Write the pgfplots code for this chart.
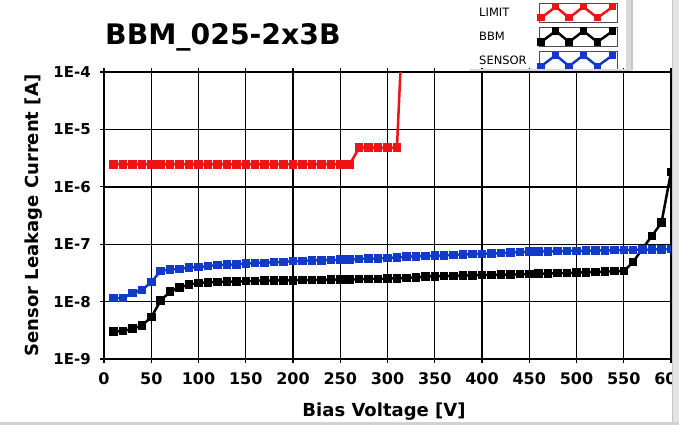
\documentclass[border=0pt]{standalone}
\usepackage{pgfplots}
\pgfplotsset{compat=1.18}
\usepackage{fontspec}
\setmainfont{DejaVu Sans}
\definecolor{limred}{RGB}{236,20,20}
\definecolor{sensblue}{RGB}{18,58,200}
\begin{document}
\begin{tikzpicture}
\begin{axis}[
  at={(104pt,66pt)}, anchor=south west,
  scale only axis, width=567pt, height=287pt,
  xmin=0, xmax=600, ymin=1e-9, ymax=1e-4, ymode=log,
  xtick={0,50,100,150,200,250,300,350,400,450,500,550,600},
  /pgf/number format/assume math mode=true,
  ytick={1e-9,1e-8,1e-7,1e-6,1e-5,1e-4},
  yticklabels={1E-9,1E-8,1E-7,1E-6,1E-5,1E-4},
  yminorticks=false, xminorticks=false,
  xmajorgrids=true, ymajorgrids=true,
  major grid style={black, line width=1.4pt},
  axis line style={black, line width=1.4pt},
  tick align=outside, major tick length=4pt, tick style={black, line width=1.2pt},
  xticklabel style={font=\fontsize{16}{16}\selectfont\bfseries, yshift=-6pt},
  yticklabel style={font=\fontsize{15}{15}\selectfont\bfseries, xshift=-5.7pt},
  xlabel={Bias Voltage [V]}, ylabel={Sensor Leakage Current [A]},
  every axis x label/.style={at={(axis description cs:0.4938,-0.201)}, anchor=base, font=\fontsize{18}{18}\selectfont\bfseries},
  every axis y label/.style={at={(axis description cs:-0.1164,0.5)}, rotate=90, anchor=base, font=\fontsize{18}{18}\selectfont\bfseries},
  clip marker paths=true,
  legend plot pos=right,
  legend cell align=left,
  legend style={at={(axis description cs:0.6614,1.2415)}, anchor=north west,
    draw=none, fill=none, inner sep=0pt, row sep=4.4pt, column sep=12pt,
    font=\fontsize{11.5}{11.5}\selectfont, nodes={inner sep=0pt}},
  legend image code/.code={
    \draw[draw=gray!60!black, fill=white, line width=0.8pt] (0pt,-9.5pt) rectangle (78pt,9.5pt);
    \draw[#1, mark size=2.4pt] plot coordinates {(2pt,-5pt)(16.7pt,6pt)(30pt,-5pt)(44.3pt,6pt)(58.3pt,-5pt)(73.7pt,6pt)};
  },
  every axis plot/.append style={line width=2.5pt, mark=square*, mark size=3pt, mark options={solid}},
  gridline/.style={black, line width=1.4pt, no markers, forget plot},
]
% vertical grid lines at each x tick
\addplot[gridline] coordinates {(50,1e-9)(50,1e-4)};
\addplot[gridline] coordinates {(100,1e-9)(100,1e-4)};
\addplot[gridline] coordinates {(150,1e-9)(150,1e-4)};
\addplot[gridline] coordinates {(200,1e-9)(200,1e-4)};
\addplot[gridline] coordinates {(250,1e-9)(250,1e-4)};
\addplot[gridline] coordinates {(300,1e-9)(300,1e-4)};
\addplot[gridline] coordinates {(350,1e-9)(350,1e-4)};
\addplot[gridline] coordinates {(400,1e-9)(400,1e-4)};
\addplot[gridline] coordinates {(450,1e-9)(450,1e-4)};
\addplot[gridline] coordinates {(500,1e-9)(500,1e-4)};
\addplot[gridline] coordinates {(550,1e-9)(550,1e-4)};
\addplot[color=limred] coordinates {
(10,2.45e-6)(20,2.45e-6)(30,2.45e-6)(40,2.45e-6)(50,2.45e-6)(60,2.45e-6)(70,2.45e-6)(80,2.45e-6)(90,2.45e-6)(100,2.45e-6)
(110,2.45e-6)(120,2.45e-6)(130,2.45e-6)(140,2.45e-6)(150,2.45e-6)(160,2.45e-6)(170,2.45e-6)(180,2.45e-6)(190,2.45e-6)(200,2.45e-6)
(210,2.45e-6)(220,2.45e-6)(230,2.45e-6)(240,2.45e-6)(250,2.45e-6)(260,2.45e-6)
(270,4.8e-6)(280,4.8e-6)(290,4.8e-6)(300,4.8e-6)(310,4.8e-6)(320,2e-2)
};
\addlegendentry{LIMIT}
\addplot[color=black] coordinates {
(10,3.03e-9)(20,3.05e-9)(30,3.38e-9)(40,3.82e-9)(50,5.36e-9)(60,1.04e-8)(70,1.5e-8)(80,1.77e-8)(90,1.97e-8)(100,2.11e-8)
(110,2.17e-8)(120,2.19e-8)(130,2.22e-8)(140,2.25e-8)(150,2.27e-8)(160,2.3e-8)(170,2.32e-8)(180,2.33e-8)(190,2.34e-8)(200,2.35e-8)
(210,2.37e-8)(220,2.38e-8)(230,2.4e-8)(240,2.41e-8)(250,2.43e-8)(260,2.44e-8)(270,2.46e-8)(280,2.47e-8)(290,2.49e-8)(300,2.51e-8)
(310,2.55e-8)(320,2.6e-8)(330,2.65e-8)(340,2.72e-8)(350,2.76e-8)(360,2.8e-8)(370,2.82e-8)(380,2.85e-8)(390,2.87e-8)(400,2.9e-8)
(410,2.92e-8)(420,2.95e-8)(430,2.98e-8)(440,3.0e-8)(450,3.04e-8)(460,3.07e-8)(470,3.1e-8)(480,3.13e-8)(490,3.16e-8)(500,3.2e-8)
(510,3.23e-8)(520,3.27e-8)(530,3.32e-8)(540,3.38e-8)(550,3.4e-8)(560,4.9e-8)(570,8.5e-8)(580,1.4e-7)(590,2.4e-7)(600,1.8e-6)
};
\addlegendentry{BBM}
\addplot[color=sensblue] coordinates {
(10,1.15e-8)(20,1.15e-8)(30,1.42e-8)(40,1.58e-8)(50,2.19e-8)(60,3.43e-8)(70,3.62e-8)(80,3.72e-8)(90,3.9e-8)(100,4.0e-8)
(110,4.15e-8)(120,4.3e-8)(130,4.4e-8)(140,4.45e-8)(150,4.6e-8)(160,4.7e-8)(170,4.75e-8)(180,4.85e-8)(190,4.94e-8)(200,5.05e-8)
(210,5.1e-8)(220,5.2e-8)(230,5.22e-8)(240,5.29e-8)(250,5.36e-8)(260,5.43e-8)(270,5.5e-8)(280,5.58e-8)(290,5.66e-8)(300,5.8e-8)
(310,5.87e-8)(320,6.06e-8)(330,6.15e-8)(340,6.22e-8)(350,6.3e-8)(360,6.4e-8)(370,6.5e-8)(380,6.6e-8)(390,6.7e-8)(400,6.8e-8)
(410,6.9e-8)(420,7.0e-8)(430,7.15e-8)(440,7.3e-8)(450,7.4e-8)(460,7.45e-8)(470,7.5e-8)(480,7.55e-8)(490,7.6e-8)(500,7.65e-8)
(510,7.7e-8)(520,7.75e-8)(530,7.8e-8)(540,7.85e-8)(550,7.94e-8)(560,8.0e-8)(570,8.05e-8)(580,8.1e-8)(590,8.15e-8)(600,8.2e-8)
};
\addlegendentry{SENSOR}
\end{axis}
\node[anchor=base west, font=\fontsize{28.3}{28.3}\selectfont\bfseries, inner sep=0pt] at (105pt,380pt) {BBM\_025-2x3B};
% legend panel shading
\fill[gray!30] (626pt,354pt) rectangle (633pt,425pt);
\fill[gray!45] (631pt,354pt) rectangle (633pt,425pt);
\fill[gray!30] (470pt,353.5pt) rectangle (633pt,355.5pt);
% right and bottom frame
\fill[gray!22] (671.8pt,0pt) rectangle (679pt,425pt);
\fill[gray!45] (671.8pt,0pt) rectangle (673pt,425pt);
\fill[gray!35] (0pt,0pt) rectangle (679pt,2.5pt);
\pgfresetboundingbox
\useasboundingbox (0pt,0pt) rectangle (679pt,425pt);
\end{tikzpicture}
\end{document}
